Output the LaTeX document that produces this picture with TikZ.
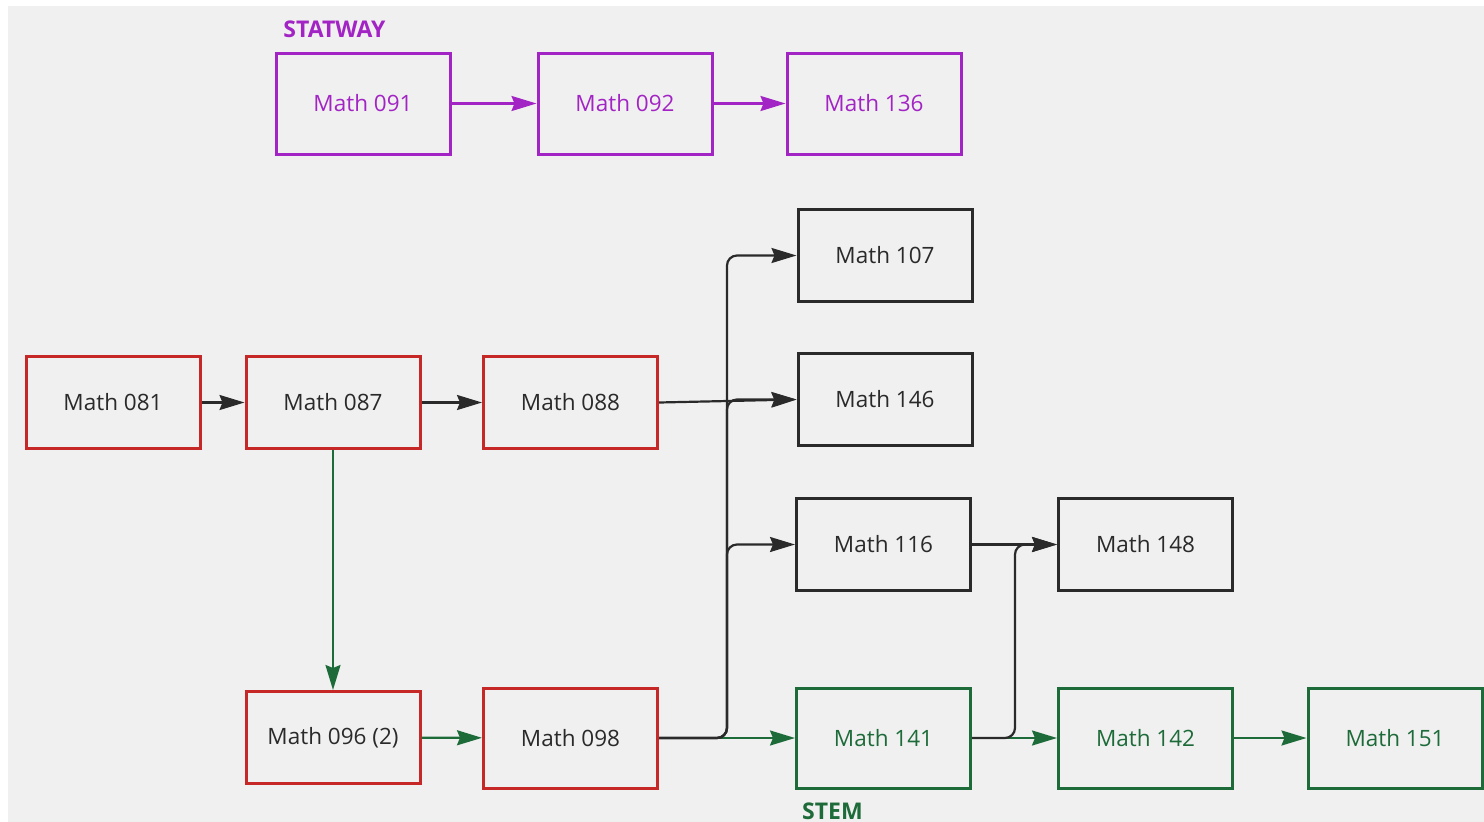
\documentclass[tikz,border=0pt]{standalone}
\usepackage{fontspec}
\setmainfont{Open Sans}
\usetikzlibrary{arrows.meta,calc}
\definecolor{bg}{HTML}{F0F0F0}
\definecolor{purp}{HTML}{A324C4}
\definecolor{redb}{HTML}{C62828}
\definecolor{grn}{HTML}{1E6B3A}
\definecolor{dark}{HTML}{2A2A2A}
\tikzset{
  box/.style={draw, line width=3pt, minimum width=174pt, minimum height=92pt, inner sep=0pt, font=\fontsize{22.5}{26}\selectfont, anchor=center},
  pbox/.style={box, draw=purp, text=purp},
  rbox/.style={box, draw=redb, text=dark},
  kbox/.style={box, draw=dark, text=dark},
  gbox/.style={box, draw=grn, text=grn},
  conn/.style={line width=2.2pt, -{Stealth[length=25pt,width=15pt,inset=3pt]}},
  lbl/.style={font=\fontsize{23}{27}\selectfont\bfseries, inner sep=0pt, anchor=base}
}
\begin{document}
\begin{tikzpicture}[x=1pt,y=-1pt]
\useasboundingbox (0,0) rectangle (1484,822);
\fill[bg] (8,6) rectangle (1484,822);
% Statway
\node[lbl, text=purp] (lstat) at (334.5,37.5) {STATWAY};
\node[pbox, minimum height=101pt] (m091) at (363,103.5) {Math 091};
\node[pbox, minimum height=101pt] (m092) at (625,103.5) {Math 092};
\node[pbox, minimum height=101pt] (m136) at (874,103.5) {Math 136};
% black
\node[kbox] (m107) at (885,255.5) {Math 107};
\node[kbox] (m146) at (885,399.5) {Math 146};
\node[kbox] (m116) at (883.5,544.5) {Math 116};
\node[kbox] (m148) at (1145.5,544.5) {Math 148};
% red
\node[rbox] (m081) at (113,402.5) {Math 081};
\node[rbox] (m087) at (333,402.5) {Math 087};
\node[rbox] (m088) at (570.5,402.5) {Math 088};
\node[rbox] (m096) at (333,737.5) {Math 096 (2)};
\node[rbox, minimum height=100pt] (m098) at (570.5,738) {Math 098};
% green
\node[gbox, minimum height=100pt] (m141) at (883.5,738) {Math 141};
\node[gbox, minimum height=100pt] (m142) at (1145.5,738) {Math 142};
\node[gbox, minimum height=100pt] (m151) at (1395,738) {Math 151};
\node[lbl, text=grn] (lstem) at (832.5,819) {STEM};
% coordinates for vertical runs
\coordinate (vx) at (727,0);
\coordinate (vy) at (1015,0);
% connectors
\draw[conn, purp] (m091) -- (m092);
\draw[conn, purp] (m092) -- (m136);
\draw[conn, dark] (m081) -- (m087);
\draw[conn, dark] (m087) -- (m088);
\draw[conn, grn] (m087) -- (m096);
\draw[conn, grn] (m096) -- (m098);
\draw[conn, grn] (m098) -- (m141);
\draw[conn, grn] (m141) -- (m142);
\draw[conn, grn] (m142) -- (m151);
\draw[conn, dark] (m088.east) -- (m146.west);
\draw[conn, dark] (m116) -- (m148);
\draw[conn, dark, rounded corners=10pt] (m098.east) -| (vx |- m107.west) -- (m107.west);
\draw[conn, dark, rounded corners=10pt] (m098.east) -| (vx |- m146.west) -- (m146.west);
\draw[conn, dark, rounded corners=10pt] (m098.east) -| (vx |- m116.west) -- (m116.west);
\draw[conn, dark, rounded corners=10pt] (m141.east) -| (vy |- m148.west) -- (m148.west);
\end{tikzpicture}
\end{document}
